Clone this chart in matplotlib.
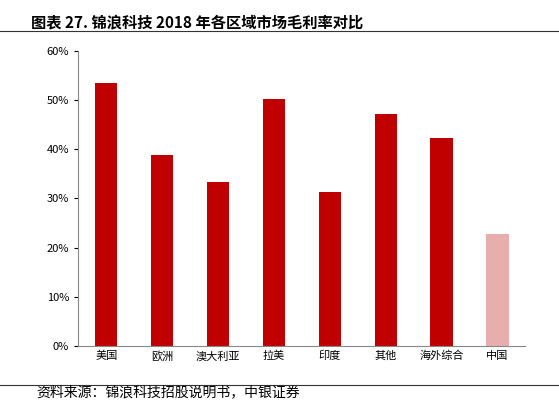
import matplotlib.pyplot as plt
from matplotlib.ticker import PercentFormatter
plt.rcParams['font.family'] = ['Noto Sans CJK SC', 'DejaVu Sans']

categories = ['美国', '欧洲', '澳大利亚', '拉美', '印度', '其他', '海外综合', '中国']
values = [53.5, 38.8, 33.4, 50.2, 31.3, 47.2, 42.3, 22.8]
colors = ['#C00000'] * 7 + ['#E8AEAE']

fig = plt.figure(figsize=(5.59, 4.07), dpi=100)
ax = fig.add_axes([0.14, 0.15, 0.80, 0.725])
ax.bar(range(len(values)), values, width=0.4, color=colors)
ax.set_ylim(0, 60)
ax.set_xlim(-0.5, len(values) - 0.5)
ax.set_yticks(range(0, 61, 10))
ax.yaxis.set_major_formatter(PercentFormatter(decimals=0))
ax.set_xticks(range(len(values)))
ax.set_xticklabels(categories, fontsize=8)
ax.tick_params(axis='y', labelsize=8, length=3)
ax.tick_params(axis='x', length=0)
for s in ['top', 'right']:
    ax.spines[s].set_visible(False)
ax.spines['left'].set_color('#888888')
ax.spines['bottom'].set_color('#888888')

fig.text(0.055, 0.965, '图表 27. 锦浪科技 2018 年各区域市场毛利率对比', fontsize=11,
         fontweight='bold', va='top')
fig.add_artist(plt.Line2D([0, 1], [0.925, 0.925], color='#333333', lw=0.8))
fig.add_artist(plt.Line2D([0, 1], [0.055, 0.055], color='#333333', lw=0.8))
fig.text(0.065, 0.02, '资料来源：锦浪科技招股说明书，中银证券', fontsize=10,
         style='italic', va='bottom')
fig.savefig('out.png', dpi=100)
